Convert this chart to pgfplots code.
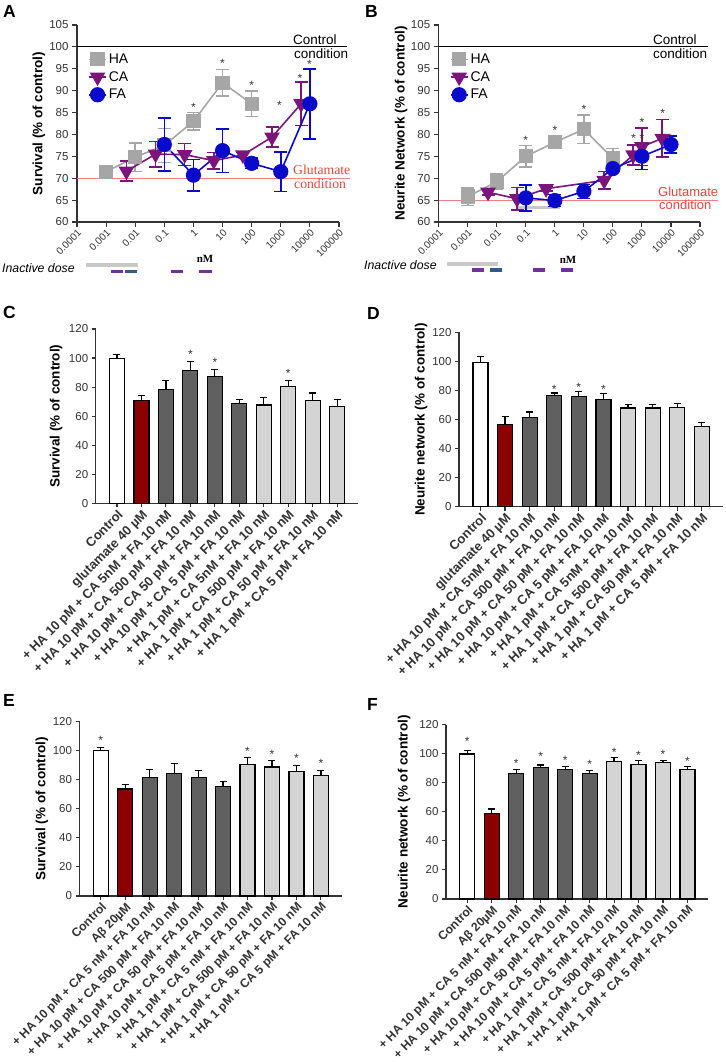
\documentclass[border=0pt]{standalone}
\usepackage{pgfplots}
\pgfplotsset{compat=1.18}
\usepackage{fontspec}
\setmainfont{Liberation Sans}
\newfontfamily\seriffont{Liberation Serif}
\newcommand\myfs[1]{\fontsize{#1}{#1}\selectfont}
\definecolor{hagray}{HTML}{A6A6A6}
\definecolor{capurple}{HTML}{7B147B}
\definecolor{fablue}{HTML}{0A0ACD}
\definecolor{glured}{HTML}{F08080}
\definecolor{glutext}{HTML}{E8453C}
\definecolor{axgray}{HTML}{333333}
\definecolor{darkbar}{HTML}{606060}
\definecolor{lightbar}{HTML}{D4D4D4}
\definecolor{redbar}{HTML}{8B0000}
\definecolor{inactgray}{HTML}{C8C8C8}
\definecolor{inactpurple}{HTML}{7030A0}
\definecolor{inactblue}{HTML}{2F5A8A}
\tikzset{sig/.style={font=\myfs{12}, inner sep=0pt, yshift=-2pt, text=axgray}}
\pgfplotsset{
 myerr/.style={error bars/y dir=both, error bars/y explicit, error bars/error bar style={line width=1.6pt},
   error bars/error mark options={rotate=90, mark size=6.5pt, line width=1.6pt}},
 mybars/.style={ybar, bar width=15pt, bar shift=0pt, draw=black, line width=1.2pt,
   error bars/y dir=plus, error bars/y explicit, error bars/error bar style={line width=1.2pt, black},
   error bars/error mark options={rotate=90, mark size=3.5pt, line width=1.2pt, black}},
 mybarax/.style={scale only axis, width=262pt, height=174.3pt, xmin=-0.87, xmax=9.85, ymin=0, ymax=120,
   /pgf/number format/assume math mode=true,
   ytick={0,20,...,120}, xtick={0,...,9}, axis lines*=left, axis line style={-,line width=1.1pt,color=axgray},
   tick align=outside, major tick length=4pt, tick style={line width=1.1pt,color=axgray},
   y tick label style={font=\myfs{11.5}, color=axgray},
   x tick label style={rotate=45, anchor=north east, font=\bfseries\myfs{13}, color=axgray, inner sep=1pt},
   ylabel style={font=\bfseries\myfs{13.5}, anchor=center}, clip=false},
}
\begin{document}
\begin{tikzpicture}
\useasboundingbox (0,0) rectangle (725pt,1062pt);
% ---------------- A
\begin{axis}[xmode=log, scale only axis, width=262pt, height=197pt, at={(77pt,840pt)}, anchor=south west,
   xmin=1e-4, xmax=1e5, ymin=60, ymax=105, /pgf/number format/assume math mode=true,
   axis lines*=left, axis line style={-,line width=1.1pt,color=axgray}, tick align=outside, major tick length=5pt,
   tick style={line width=1.1pt,color=axgray}, xminorticks=false,
   ytick={60,65,...,105}, xtick={1e-4,1e-3,0.01,0.1,1,10,100,1000,1e4,1e5},
   xticklabels={0.0001,0.001,0.01,0.1,1,10,100,1000,10000,100000},
   x tick label style={rotate=45, anchor=north east, font=\myfs{10}, color=axgray, inner sep=1pt},
   y tick label style={font=\myfs{11.5}, color=axgray},
   ylabel={Survival (\% of control)},
   ylabel style={font=\bfseries\myfs{13.5}, anchor=center, at={(axis description cs:-0.145,0.5)}},
   clip=false,
   legend style={at={(rel axis cs:0.042,0.865)}, anchor=north west, draw=none, fill=none, font=\myfs{14}, row sep=2.5pt, inner sep=0pt},
   legend cell align=left]
\draw[glured, line width=1.1pt] (axis cs:1e-4,70) -- (axis cs:2.4e5,70);
\draw[black, line width=0.9pt] (axis cs:1e-4,100) -- (axis cs:1.9e5,100);
\addplot[color=hagray, line width=1.6pt, mark=square*, mark size=6.3pt, mark options={solid}, myerr] table[x=x,y=y,y error=e]{
x y e
0.001 71.5 0.5
0.01 74.8 3.3
0.1 77.5 3.9
1 83 2
10 91.8 3
100 87 2.9
};
\addplot[color=capurple, line width=1.6pt, mark=triangle*, mark size=7.5pt, mark options={solid,rotate=180}, myerr] table[x=x,y=y,y error=e]{
x y e
0.005 71.6 2.3
0.05 75.5 2.9
0.5 75.4 2.5
5 74 1.9
50 75.3 0.6
500 79.4 2.3
5000 87 5
};
\addplot[color=fablue, line width=1.6pt, mark=*, mark size=6.8pt, mark options={solid}, myerr] table[x=x,y=y,y error=e]{
x y e
0.1 77.7 6.1
1 70.7 3.6
10 76.3 5
100 73.4 1.2
1000 71.5 4.5
10000 87 8
};
\legend{HA,CA,FA}
\node[sig] at (axis cs:1,86.7) {*};
\node[sig] at (axis cs:10,96.6) {*};
\node[sig] at (axis cs:100,91.7) {*};
\node[sig] at (axis cs:900,87.2) {*};
\node[sig] at (axis cs:4600,93.2) {*};
\node[sig] at (axis cs:9700,96.4) {*};
\end{axis}
% ---------------- B
\begin{axis}[xmode=log, scale only axis, width=261.3pt, height=197pt, at={(438.7pt,840pt)}, anchor=south west,
   xmin=1e-4, xmax=1e5, ymin=60, ymax=105, /pgf/number format/assume math mode=true,
   axis lines*=left, axis line style={-,line width=1.1pt,color=axgray}, tick align=outside, major tick length=5pt,
   tick style={line width=1.1pt,color=axgray}, xminorticks=false,
   ytick={60,65,...,105}, xtick={1e-4,1e-3,0.01,0.1,1,10,100,1000,1e4,1e5},
   xticklabels={0.0001,0.001,0.01,0.1,1,10,100,1000,10000,100000},
   x tick label style={rotate=45, anchor=north east, font=\myfs{10}, color=axgray, inner sep=1pt},
   y tick label style={font=\myfs{11.5}, color=axgray},
   ylabel={Neurite Network (\% of control)},
   ylabel style={font=\bfseries\myfs{13.5}, anchor=center, at={(axis description cs:-0.144,0.5)}},
   clip=false,
   legend style={at={(rel axis cs:0.042,0.865)}, anchor=north west, draw=none, fill=none, font=\myfs{14}, row sep=2.5pt, inner sep=0pt},
   legend cell align=left]
\draw[glured, line width=1.1pt] (axis cs:1e-4,65) -- (axis cs:4.2e5,65);
\draw[black, line width=0.9pt] (axis cs:1e-4,100) -- (axis cs:1.9e5,100);
\draw[inactgray, line width=3pt] (axis cs:0.055,63.2) -- (axis cs:1.5,63.2);
\addplot[color=hagray, line width=1.6pt, mark=square*, mark size=6.3pt, mark options={solid}, myerr] table[x=x,y=y,y error=e]{
x y e
0.001 65.8 2
0.01 69.2 1.8
0.1 75 2.5
1 78.2 0.8
10 81.2 3.3
100 74.5 2.3
};
\addplot[color=capurple, line width=1.6pt, mark=triangle*, mark size=7.5pt, mark options={solid,rotate=180}, myerr] table[x=x,y=y,y error=e]{
x y e
0.005 66.8 0.6
0.05 65.3 2.6
0.5 67.6 0.5
50 69.5 2
500 75.3 2.3
1000 77.2 4.3
5000 79.1 4.3
};
\addplot[color=fablue, line width=1.6pt, mark=*, mark size=6.8pt, mark options={solid}, myerr] table[x=x,y=y,y error=e]{
x y e
0.1 65.5 3
1 64.9 1.4
10 67 1.6
100 72.2 0.8
1000 75 3
10000 77.7 1.9
};
\legend{HA,CA,FA}
\node[sig] at (axis cs:0.1,79.1) {*};
\node[sig] at (axis cs:1,81.4) {*};
\node[sig] at (axis cs:10,86.2) {*};
\node[sig] at (axis cs:507,79.6) {*};
\node[sig] at (axis cs:1000,79.6) {*};
\node[sig] at (axis cs:1000,83.1) {*};
\node[sig] at (axis cs:5190,85.3) {*};
\node[sig] at (axis cs:10000,79.5) {*};
\end{axis}
% annotations A/B
\begin{scope}[x=1pt,y=1pt]
\node[anchor=base west, inner sep=0pt, font=\myfs{13.5}] at (293,1017) {Control};
\node[anchor=base west, inner sep=0pt, font=\myfs{13.5}] at (294,1003.7) {condition};
\node[anchor=base west, inner sep=0pt, font=\seriffont\myfs{13.7}, text=glutext] at (293,887) {Glutamate};
\node[anchor=base west, inner sep=0pt, font=\seriffont\myfs{13.7}, text=glutext] at (294,873.7) {condition};
\node[anchor=base west, inner sep=0pt, font=\myfs{13.5}] at (653,1017) {Control};
\node[anchor=base west, inner sep=0pt, font=\myfs{13.5}] at (653,1003.7) {condition};
\node[anchor=base west, inner sep=0pt, font=\myfs{13}, text=glutext] at (658,865.3) {Glutamate};
\node[anchor=base west, inner sep=0pt, font=\myfs{13}, text=glutext] at (659,852) {condition};
\node[anchor=west, inner sep=0pt, font=\itshape\myfs{12.3}] at (2,794) {Inactive dose};
\node[anchor=west, inner sep=0pt, font=\itshape\myfs{12.3}] at (364,797) {Inactive dose};
\node[inner sep=0pt, font=\seriffont\bfseries\myfs{11}] at (205,803) {nM};
\node[inner sep=0pt, font=\seriffont\bfseries\myfs{11}] at (568,802) {nM};
\fill[inactgray] (86,795) rectangle (138,799);
\fill[inactpurple] (111,789) rectangle (123,792);
\fill[inactblue] (125,789) rectangle (137,792);
\fill[inactpurple] (171,789) rectangle (183,792);
\fill[inactpurple] (199,789) rectangle (212,792);
\fill[inactgray] (447,796) rectangle (498,800);
\fill[inactpurple] (472,790) rectangle (484,794);
\fill[inactblue] (490,790) rectangle (502,794);
\fill[inactpurple] (533,790) rectangle (545,794);
\fill[inactpurple] (561,790) rectangle (573,794);
\node[anchor=north west, inner sep=0pt, font=\bfseries\myfs{17.5}] at (3,1057) {A};
\node[anchor=north west, inner sep=0pt, font=\bfseries\myfs{17.5}] at (365,1057) {B};
\node[anchor=north west, inner sep=0pt, font=\bfseries\myfs{17.5}] at (3,756) {C};
\node[anchor=north west, inner sep=0pt, font=\bfseries\myfs{17.5}] at (367,755) {D};
\node[anchor=north west, inner sep=0pt, font=\bfseries\myfs{17.5}] at (3,368) {E};
\node[anchor=north west, inner sep=0pt, font=\bfseries\myfs{17.5}] at (367,364) {F};
\end{scope}
% ---------------- C
\begin{axis}[mybarax, at={(95.7pt,558.7pt)}, anchor=south west, width=262.3pt, ylabel={Survival (\% of control)},
  ylabel style={at={(axis description cs:-0.151,0.5)}},
  xticklabels={Control, glutamate 40 µM, + HA 10 pM + CA 5nM + FA 10 nM, + HA 10 pM + CA 500 pM + FA 10 nM,
   + HA 10 pM + CA 50 pM + FA 10 nM, + HA 10 pM + CA 5 pM + FA 10 nM, + HA 1 pM + CA 5nM + FA 10 nM,
   + HA 1 pM + CA 500 pM + FA 10 nM, + HA 1 pM + CA 50 pM + FA 10 nM, + HA 1 pM + CA 5 pM + FA 10 nM}]
\addplot[fill=white, mybars] coordinates {(0,99.5) +- (0,3)};
\addplot[fill=redbar, mybars] coordinates {(1,71) +- (0,3)};
\addplot[fill=darkbar, mybars] coordinates {(2,78.5) +- (0,6.3) (3,91.5) +- (0,6.3) (4,87.5) +- (0,4.5) (5,68.5) +- (0,3)};
\addplot[fill=lightbar, mybars] coordinates {(6,67.7) +- (0,5.2) (7,80.3) +- (0,4.5) (8,71) +- (0,5) (9,66.8) +- (0,4.5)};
\node[sig] at (axis cs:3,103.8) {*};
\node[sig] at (axis cs:4,98.3) {*};
\node[sig] at (axis cs:7,90.9) {*};
\end{axis}
% ---------------- D
\begin{axis}[mybarax, at={(459pt,555.3pt)}, anchor=south west, width=263.7pt, ylabel={Neurite network (\% of control)},
  ylabel style={at={(axis description cs:-0.144,0.5)}},
  xticklabels={Control, glutamate 40 µM, + HA 10 pM + CA 5nM + FA 10 nM, + HA 10 pM + CA 500 pM + FA 10 nM,
   + HA 10 pM + CA 50 pM + FA 10 nM, + HA 10 pM + CA 5 pM + FA 10 nM, + HA 1 pM + CA 5nM + FA 10 nM,
   + HA 1 pM + CA 500 pM + FA 10 nM, + HA 1 pM + CA 50 pM + FA 10 nM, + HA 1 pM + CA 5 pM + FA 10 nM}]
\addplot[fill=white, mybars] coordinates {(0,99.5) +- (0,4)};
\addplot[fill=redbar, mybars] coordinates {(1,56.8) +- (0,5.2)};
\addplot[fill=darkbar, mybars] coordinates {(2,61.6) +- (0,3.6) (3,76.5) +- (0,1.8) (4,75.8) +- (0,3.4) (5,74) +- (0,4)};
\addplot[fill=lightbar, mybars] coordinates {(6,68) +- (0,2.3) (7,68) +- (0,2.3) (8,68.5) +- (0,2.5) (9,55) +- (0,3.2)};
\node[sig] at (axis cs:3,82.4) {*};
\node[sig] at (axis cs:4,83.3) {*};
\node[sig] at (axis cs:5,82.4) {*};
\end{axis}
% ---------------- E
\begin{axis}[mybarax, at={(79.5pt,166pt)}, anchor=south west, width=262.2pt, ylabel={Survival (\% of control)},
  ylabel style={at={(axis description cs:-0.143,0.5)}},
  x tick label style={font=\bfseries\myfs{12.2}},
  xticklabels={Control, Aβ 20µM, + HA 10 pM + CA 5 nM + FA 10 nM, + HA 10 pM + CA 500 pM + FA 10 nM,
   + HA 10 pM + CA 50 pM + FA 10 nM, + HA 10 pM + CA 5 pM + FA 10 nM, + HA 1 pM + CA 5 nM + FA 10 nM,
   + HA 1 pM + CA 500 pM + FA 10 nM, + HA 1 pM + CA 50 pM + FA 10 nM, + HA 1 pM + CA 5 pM + FA 10 nM}]
\addplot[fill=white, mybars] coordinates {(0,100) +- (0,2)};
\addplot[fill=redbar, mybars] coordinates {(1,73.6) +- (0,3.4)};
\addplot[fill=darkbar, mybars] coordinates {(2,81.6) +- (0,5.6) (3,84.6) +- (0,6.7) (4,81.6) +- (0,4.6) (5,75.4) +- (0,3.7)};
\addplot[fill=lightbar, mybars] coordinates {(6,90.6) +- (0,4.6) (7,88.8) +- (0,4.3) (8,85.8) +- (0,4.3) (9,82.8) +- (0,3.4)};
\node[sig] at (axis cs:0,108.5) {*};
\node[sig] at (axis cs:6,100.9) {*};
\node[sig] at (axis cs:7,98.9) {*};
\node[sig] at (axis cs:8,95.9) {*};
\node[sig] at (axis cs:9,92.4) {*};
\end{axis}
% ---------------- F
\begin{axis}[mybarax, at={(446pt,163pt)}, anchor=south west, width=262.3pt, ylabel={Neurite network (\% of control)},
  ylabel style={at={(axis description cs:-0.16,0.5)}},
  x tick label style={font=\bfseries\myfs{12.2}},
  xticklabels={Control, Aβ 20µM, + HA 10 pM + CA 5 nM + FA 10 nM, + HA 10 pM + CA 500 pM + FA 10 nM,
   + HA 10 pM + CA 50 pM + FA 10 nM, + HA 10 pM + CA 5 pM + FA 10 nM, + HA 1 pM + CA 5 nM + FA 10 nM,
   + HA 1 pM + CA 500 pM + FA 10 nM, + HA 1 pM + CA 50 pM + FA 10 nM, + HA 1 pM + CA 5 pM + FA 10 nM}]
\addplot[fill=white, mybars] coordinates {(0,99.8) +- (0,2.5)};
\addplot[fill=redbar, mybars] coordinates {(1,59) +- (0,3)};
\addplot[fill=darkbar, mybars] coordinates {(2,86.6) +- (0,2.5) (3,90.8) +- (0,1.4) (4,88.9) +- (0,2.3) (5,86.6) +- (0,1.9)};
\addplot[fill=lightbar, mybars] coordinates {(6,94.7) +- (0,2.5) (7,92.6) +- (0,2.5) (8,94) +- (0,1.4) (9,89.4) +- (0,1.8)};
\node[sig] at (axis cs:0,109.9) {*};
\node[sig] at (axis cs:2,94.5) {*};
\node[sig] at (axis cs:3,99.5) {*};
\node[sig] at (axis cs:4,96.5) {*};
\node[sig] at (axis cs:5,93.8) {*};
\node[sig] at (axis cs:6,102.3) {*};
\node[sig] at (axis cs:7,100.2) {*};
\node[sig] at (axis cs:8,100.7) {*};
\node[sig] at (axis cs:9,95.8) {*};
\end{axis}
\end{tikzpicture}
\end{document}
